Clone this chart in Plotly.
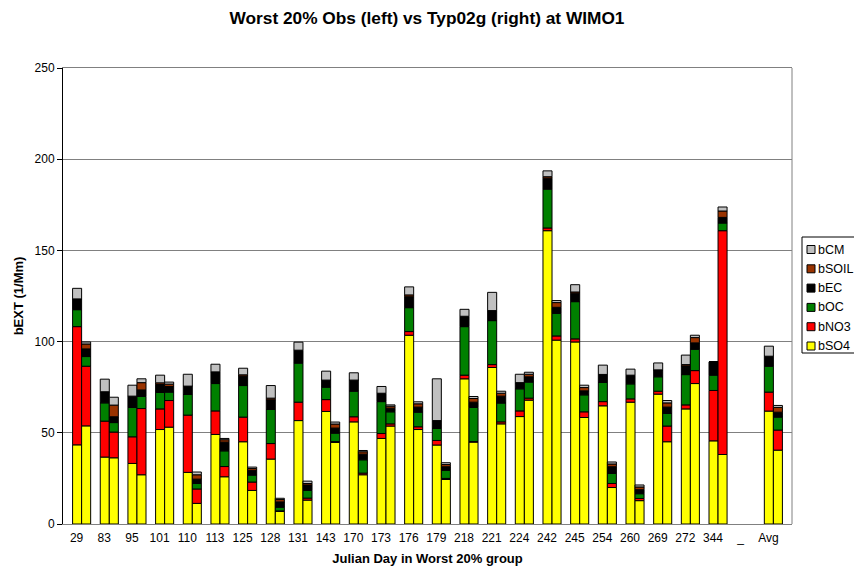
import numpy as np
import plotly.graph_objects as go

days = ["29", "83", "95", "101", "110", "113", "125", "128", "131", "143", "170", "173",
        "176", "179", "218", "221", "224", "242", "245", "254", "260", "269", "272", "344", "_", "Avg"]

components = ["bSO4", "bNO3", "bOC", "bEC", "bSOIL", "bCM"]
colors = {"bSO4": "#FFFF00", "bNO3": "#FF0000", "bOC": "#008000",
          "bEC": "#000000", "bSOIL": "#993300", "bCM": "#C0C0C0"}

# Observed (left bar of each pair)
obs_so4 = [43.4, 36.7, 33.2, 51.8, 28.3, 49.1, 45.1, 35.6, 56.7, 61.7, 56.0, 46.9,
           103.5, 43.3, 79.6, 85.8, 58.9, 160.8, 99.8, 64.8, 66.8, 71.2, 63.1, 45.6, None, 61.9]
obs_no3 = [64.8, 19.7, 14.6, 11.3, 31.4, 12.9, 13.5, 8.5, 10.1, 6.5, 2.8, 2.7,
           2.0, 2.5, 2.0, 1.6, 3.1, 1.5, 1.7, 2.3, 1.8, 1.6, 2.2, 27.6, None, 10.4]
obs_oc = [9.3, 10.0, 16.1, 9.0, 11.3, 15.0, 17.3, 18.7, 21.4, 6.8, 14.0, 17.5,
          13.1, 6.6, 26.6, 24.1, 12.1, 21.3, 20.4, 10.5, 8.2, 7.9, 16.6, 8.4, None, 14.2]
obs_ec = [5.9, 6.1, 6.2, 4.4, 4.6, 6.4, 5.2, 5.3, 7.1, 3.9, 6.1, 4.6,
          6.0, 4.3, 5.7, 5.5, 3.4, 6.0, 4.6, 4.4, 4.8, 3.8, 4.8, 7.3, None, 5.5]
obs_soil = [0.0, 0.0, 0.0, 0.9, 0.0, 0.0, 0.7, 0.9, 0.0, 0.0, 0.0, 0.0,
            1.0, 0.0, 0.0, 0.0, 0.0, 0.8, 0.7, 0.0, 0.0, 0.0, 0.7, 0.0, None, 0.0]
obs_cm = [5.8, 6.9, 6.0, 4.2, 6.5, 4.2, 3.6, 6.9, 4.4, 4.9, 4.0, 3.7,
          4.4, 22.9, 3.8, 10.0, 4.6, 3.2, 4.0, 5.1, 3.3, 3.8, 5.2, 0.0, None, 5.5]

# Typ02g model (right bar of each pair)
mod_so4 = [53.8, 36.3, 27.0, 53.1, 11.3, 25.9, 18.4, 6.9, 13.1, 44.7, 27.0, 53.7,
           51.8, 24.4, 44.9, 54.9, 67.9, 100.8, 58.4, 20.0, 12.8, 45.1, 77.0, 38.1, None, 40.5]
mod_no3 = [32.7, 14.1, 36.3, 14.6, 7.9, 5.6, 4.6, 0.3, 1.1, 0.5, 0.9, 1.2,
           1.5, 0.6, 0.3, 1.1, 1.1, 2.3, 3.1, 2.2, 1.2, 8.6, 7.1, 122.7, None, 11.0]
mod_oc = [5.3, 5.2, 6.6, 4.6, 3.0, 8.6, 3.8, 2.0, 4.2, 4.6, 7.3, 6.6,
          8.0, 4.4, 18.7, 10.3, 8.8, 12.4, 9.3, 5.5, 2.6, 6.9, 11.7, 4.2, None, 7.1]
mod_ec = [4.2, 3.2, 3.6, 3.1, 2.4, 4.8, 2.6, 2.9, 3.0, 2.8, 3.1, 2.0,
          2.8, 2.0, 2.9, 3.8, 2.9, 3.3, 2.2, 3.7, 2.2, 3.5, 3.5, 3.1, None, 2.7]
mod_soil = [2.7, 6.4, 4.0, 1.3, 2.4, 1.3, 1.0, 1.3, 0.8, 2.2, 1.3, 1.1,
            1.8, 1.2, 2.0, 1.6, 1.4, 2.6, 1.8, 1.5, 1.5, 2.3, 2.9, 3.5, None, 2.6]
mod_cm = [1.1, 4.3, 2.1, 1.1, 1.5, 0.7, 0.8, 0.7, 1.3, 1.1, 0.7, 0.7,
          1.1, 1.0, 1.1, 1.1, 1.1, 1.1, 1.3, 1.1, 1.1, 1.3, 1.3, 2.2, None, 1.1]

obs = {"bSO4": obs_so4, "bNO3": obs_no3, "bOC": obs_oc, "bEC": obs_ec, "bSOIL": obs_soil, "bCM": obs_cm}
mod = {"bSO4": mod_so4, "bNO3": mod_no3, "bOC": mod_oc, "bEC": mod_ec, "bSOIL": mod_soil, "bCM": mod_cm}

FONT = "Liberation Sans, Arial, sans-serif"
W, H = 854, 569
ML, MR, MT, MB = 63, 62, 68, 45
PW, PH = W - ML - MR, H - MT - MB

fig = go.Figure()


def to_list(a):
    return [None if (v is None or np.isnan(v)) else float(v) for v in a]


for group, data in (("obs", obs), ("mod", mod)):
    base = np.zeros(len(days))
    for comp in components:
        vals = np.array([np.nan if v is None else v for v in data[comp]], dtype=float)
        fig.add_trace(go.Bar(
            x=days, y=to_list(vals), base=to_list(base),
            name=comp, legendgroup=comp, showlegend=False,
            offsetgroup=group,
            marker=dict(color=colors[comp], line=dict(color="#000000", width=1)),
        ))
        base = base + np.nan_to_num(vals)


def px_x(x):
    return (x - ML) / PW


def px_y(y):
    return (H - MB - y) / PH


# Legend (drawn compactly, like the original chart's legend box)
shapes = [
    dict(type="line", xref="paper", yref="paper", x0=1, x1=1, y0=0, y1=1,
         line=dict(color="#808080", width=1)),
    dict(type="rect", xref="paper", yref="paper",
         x0=px_x(802), x1=px_x(870), y0=px_y(353), y1=px_y(237),
         line=dict(color="#000000", width=1), fillcolor="white"),
]
annotations = []
legend_items = components[::-1]
for k, comp in enumerate(legend_items):
    yc = 249.5 + 19.3 * k
    shapes.append(dict(type="rect", xref="paper", yref="paper",
                       x0=px_x(807), x1=px_x(815), y0=px_y(yc + 4), y1=px_y(yc - 4),
                       line=dict(color="#000000", width=1), fillcolor=colors[comp]))
    annotations.append(dict(text=comp, xref="paper", yref="paper",
                            x=px_x(816), y=px_y(yc), xanchor="left", yanchor="middle",
                            showarrow=False, font=dict(family=FONT, size=12.5, color="#000000")))

fig.update_layout(
    width=W, height=H,
    paper_bgcolor="white", plot_bgcolor="white",
    margin=dict(l=ML, r=MR, t=MT, b=MB, autoexpand=False),
    barmode="group", bargap=0.347, bargroupgap=0,
    showlegend=False,
    font=dict(family=FONT, size=12, color="#000000"),
    title=dict(text="<b>Worst 20% Obs (left) vs Typ02g (right) at WIMO1</b>",
               x=0.5, xanchor="center", y=0.968, yanchor="middle",
               font=dict(family=FONT, size=17.3, color="#000000")),
    xaxis=dict(type="category", categoryorder="array", categoryarray=days,
               range=[-0.673, 25.673], showgrid=False, ticks="",
               showline=True, linecolor="#808080", linewidth=1, mirror=True,
               ticklabelshift=-5, ticklabelstandoff=3,
               tickfont=dict(family=FONT, size=12),
               title=dict(text="<b>Julian Day in Worst 20% group</b>", standoff=9,
                          font=dict(family=FONT, size=13))),
    yaxis=dict(range=[0, 250], dtick=50, showgrid=True, gridcolor="#808080", gridwidth=1,
               zeroline=False, showline=True, linecolor="#000000", linewidth=1,
               ticks="outside", ticklen=5, tickcolor="#000000",
               tickfont=dict(family=FONT, size=12),
               title=dict(text="<b>bEXT (1/Mm)</b>", standoff=8,
                          font=dict(family=FONT, size=13))),
    shapes=shapes,
    annotations=annotations,
)

fig.write_html("out.html", config={"displayModeBar": False},
               post_script="document.body.style.margin='0';document.body.style.overflow='hidden';")
